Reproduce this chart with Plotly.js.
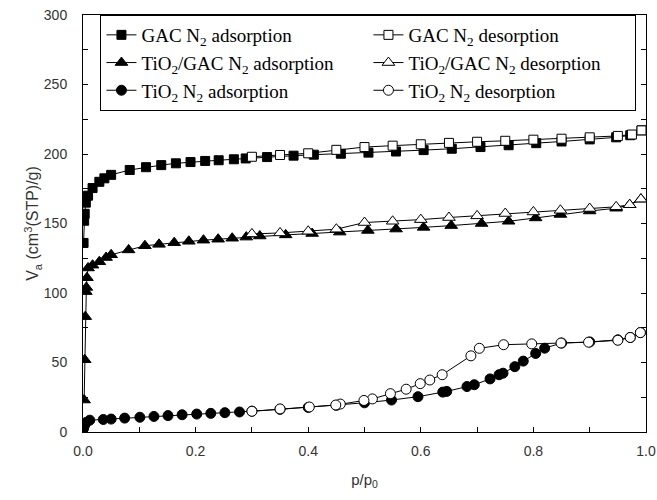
<!DOCTYPE html>
<html>
<head>
<meta charset="utf-8">
<script src="https://cdn.plot.ly/plotly-3.0.1.min.js"></script>
<style>html,body{margin:0;padding:0;background:#fff;}#chart{width:657px;height:500px;}</style>
</head>
<body>
<div id="chart"></div>
<script>
// GAC N2 adsorption
const gacAdsP = [0.001, 0.002, 0.003, 0.005, 0.009, 0.017, 0.029, 0.038, 0.05, 0.083, 0.112, 0.139, 0.165, 0.191, 0.217, 0.241, 0.268, 0.289, 0.327, 0.374, 0.41, 0.458, 0.507, 0.556, 0.605, 0.655, 0.706, 0.756, 0.805, 0.85, 0.9, 0.947, 0.972, 0.992];
const gacAdsV = [136, 152, 157, 165, 170, 175.5, 180, 182.5, 185, 188.5, 190.5, 192, 193.3, 194.2, 195, 195.5, 196.2, 196.8, 197.8, 198.8, 199.5, 200.2, 201, 201.8, 202.8, 203.8, 205, 206.3, 207.8, 209, 210.5, 212, 213.5, 217];
// GAC N2 desorption
const gacDesP = [0.992, 0.975, 0.95, 0.9, 0.85, 0.8, 0.75, 0.7, 0.65, 0.6, 0.55, 0.5, 0.45, 0.4, 0.35, 0.3];
const gacDesV = [217, 214, 213, 212, 211, 210.3, 209.5, 208.8, 208, 207, 206, 205, 203, 200.5, 199.3, 198];
// TiO2/GAC N2 adsorption
const tgAdsP = [0.002, 0.003, 0.004, 0.005, 0.006, 0.007, 0.009, 0.017, 0.029, 0.041, 0.05, 0.081, 0.110, 0.135, 0.162, 0.188, 0.214, 0.240, 0.265, 0.290, 0.314, 0.36, 0.407, 0.456, 0.506, 0.556, 0.605, 0.654, 0.708, 0.756, 0.804, 0.848, 0.9, 0.947, 0.971, 0.991];
const tgAdsV = [23, 52, 83, 101, 104, 111, 118, 120, 122.5, 125.5, 127.5, 131, 134, 135, 136.2, 137.2, 138, 138.7, 139.4, 140.2, 141, 141.8, 142.8, 143.8, 145, 146, 147.2, 148.5, 150, 151.6, 154, 156.5, 159, 161, 163.5, 167.5];
// TiO2/GAC N2 desorption
const tgDesP = [0.991, 0.971, 0.947, 0.9, 0.848, 0.8, 0.75, 0.7, 0.65, 0.6, 0.55, 0.5, 0.45, 0.4, 0.35, 0.3];
const tgDesV = [167.5, 163.5, 162, 160.8, 159.5, 158.3, 157.2, 155.5, 154.3, 152.8, 151.6, 150.7, 145.9, 144.4, 143.2, 142.5];
// TiO2 N2 adsorption
const tiAdsP = [0.001, 0.003, 0.006, 0.012, 0.036, 0.05, 0.074, 0.101, 0.126, 0.151, 0.176, 0.202, 0.227, 0.252, 0.278, 0.3, 0.35, 0.4, 0.45, 0.5, 0.548, 0.595, 0.639, 0.646, 0.682, 0.695, 0.723, 0.739, 0.746, 0.767, 0.782, 0.804, 0.82, 0.85, 0.9, 0.95, 0.972, 0.99];
const tiAdsV = [2.5, 5, 7, 8.5, 9, 9.3, 10, 10.6, 11.2, 11.8, 12.4, 12.9, 13.4, 13.9, 14.4, 15, 16.3, 17.7, 19.2, 21, 23, 25.4, 28.7, 29.2, 32.7, 34, 38.2, 41.2, 42.3, 47, 51, 56.5, 60.3, 64, 64.8, 66.3, 68, 71.5];
// TiO2 N2 desorption
const tiDesP = [0.99, 0.972, 0.95, 0.898, 0.849, 0.797, 0.747, 0.704, 0.689, 0.638, 0.616, 0.599, 0.574, 0.546, 0.514, 0.499, 0.457, 0.449, 0.402, 0.35, 0.3];
const tiDesV = [71.5, 68, 66, 64.6, 64, 63.4, 62.8, 60.2, 54.8, 41.2, 37.4, 34.8, 30.8, 27.6, 23.8, 22.7, 20.1, 19.4, 18, 16.6, 14.9];

const names = [
  'GAC N<sub>2</sub> adsorption',
  'GAC N<sub>2</sub> desorption',
  'TiO<sub>2</sub>/GAC N<sub>2</sub> adsorption',
  'TiO<sub>2</sub>/GAC N<sub>2</sub> desorption',
  'TiO<sub>2</sub> N<sub>2</sub> adsorption',
  'TiO<sub>2</sub> N<sub>2</sub> desorption'
];

function tr(x, y, name, symbol, filled, size) {
  return {
    x: x, y: y, name: name, type: 'scatter', mode: 'lines+markers',
    line: {color: '#000', width: 1},
    marker: {symbol: symbol, size: size, color: filled ? '#000' : '#fff', line: {color: '#000', width: 1}}
  };
}

const data = [
  tr(gacAdsP, gacAdsV, names[0], 'square', true, 9),
  tr(gacDesP, gacDesV, names[1], 'square', false, 9),
  tr(tgAdsP, tgAdsV, names[2], 'triangle-up', true, 11),
  tr(tgDesP, tgDesV, names[3], 'triangle-up', false, 11),
  tr(tiAdsP, tiAdsV, names[4], 'circle', true, 10),
  tr(tiDesP, tiDesV, names[5], 'circle', false, 10)
];

const axisCommon = {
  showline: true, linecolor: '#000', linewidth: 1, mirror: 'ticks',
  ticks: 'inside', ticklen: 5, tickcolor: '#000', tickwidth: 1,
  showgrid: false, zeroline: false, automargin: false,
  tickfont: {family: 'Liberation Sans, Arial, sans-serif', size: 14, color: '#333'}
};

const layout = {
  width: 657, height: 500,
  margin: {l: 83, r: 11, t: 15, b: 68},
  paper_bgcolor: '#fff', plot_bgcolor: '#fff',
  showlegend: true,
  legend: {
    orientation: 'h', x: 0.031, y: 1, xanchor: 'left', yanchor: 'top',
    entrywidth: 222, entrywidthmode: 'pixels',
    bordercolor: '#000', borderwidth: 1, bgcolor: '#fff',
    font: {family: 'Liberation Serif, Times New Roman, serif', size: 19, color: '#000'}
  },
  xaxis: Object.assign({}, axisCommon, {
    range: [0, 1], dtick: 0.2, tick0: 0, tickformat: '.1f', ticklabelstandoff: 6,
    minor: {dtick: 0.1, ticks: 'inside', ticklen: 5, tickcolor: '#000'},
    title: {text: 'p/p<sub>0</sub>', font: {family: 'Liberation Sans, Arial, sans-serif', size: 15, color: '#333'}, standoff: 16}
  }),
  yaxis: Object.assign({}, axisCommon, {
    range: [0, 300], dtick: 50, tick0: 0, ticklabelstandoff: 12,
    minor: {dtick: 25, ticks: 'inside', ticklen: 5, tickcolor: '#000'},
    title: {text: 'V<sub>a</sub> (cm<sup>3</sup>(STP)/g)', font: {family: 'Liberation Sans, Arial, sans-serif', size: 16, color: '#333'}, standoff: 0}
  })
};

Plotly.newPlot('chart', data, layout, {displayModeBar: false, staticPlot: true});
</script>
</body>
</html>
